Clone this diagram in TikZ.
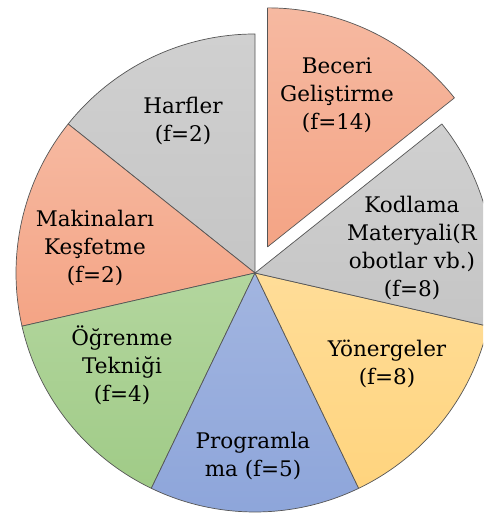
\documentclass[tikz,border=0pt]{standalone}
\usepackage{fontspec}
\setmainfont{DejaVu Serif}
\definecolor{salT}{HTML}{F6B9A1}\definecolor{salB}{HTML}{F4A485}
\definecolor{grT}{HTML}{D0D0D0}\definecolor{grB}{HTML}{C5C5C5}
\definecolor{gnT}{HTML}{B3D69E}\definecolor{gnB}{HTML}{A0CB87}
\definecolor{blT}{HTML}{A2B5E0}\definecolor{blB}{HTML}{8DA5DA}
\definecolor{ylT}{HTML}{FFDD98}\definecolor{ylB}{HTML}{FFD47E}
\definecolor{edge}{HTML}{555555}
\tikzset{
  lbl/.style={align=center, font=\fontsize{21.5}{28}\selectfont, text=black, inner sep=0pt},
  rim/.style={draw=edge, line width=0.7pt, line join=round}
}
\newcommand\myslice[5]{% shift, start, end, top, bottom
  \shade[top color=#4, bottom color=#5] ($(255,240)+#1$) -- ++(#2:239) arc[start angle=#2, end angle=#3, radius=239] -- cycle;
  \path[rim] ($(255,240)+#1$) -- ++(#2:239) arc[start angle=#2, end angle=#3, radius=239] -- cycle;
}
\usetikzlibrary{calc}
\begin{document}
\begin{tikzpicture}[x=1pt,y=1pt]
\useasboundingbox (0,0) rectangle (483,513);
\clip (0,0) rectangle (483,513);
\myslice{(64.29:29)}{38.57}{90}{salT}{salB}
\myslice{(0,0)}{90}{141.43}{grT}{grB}
\myslice{(0,0)}{141.43}{192.86}{salT}{salB}
\myslice{(0,0)}{192.86}{244.29}{gnT}{gnB}
\myslice{(0,0)}{244.29}{295.71}{blT}{blB}
\myslice{(0,0)}{295.71}{347.14}{ylT}{ylB}
\myslice{(0,0)}{347.14}{398.57}{grT}{grB}
\node[lbl] (beceri) at (337,418) {Beceri\\Geliştirme\\(f=14)};
\node[lbl] (harfler) at (183,392) {Harfler\\(f=2)};
\node[lbl] (makina) at (95,265) {Makinaları\\Keşfetme\\(f=2)};
\node[lbl] (kodlama) at (412,265) {Kodlama\\Materyali(R\\obotlar vb.)\\(f=8)};
\node[lbl] (yonerge) at (387,149) {Yönergeler\\(f=8)};
\node[lbl] (ogrenme) at (122,148) {Öğrenme\\Tekniği\\(f=4)};
\node[lbl] (program) at (253,57) {Programla\\ma (f=5)};
\end{tikzpicture}
\end{document}
